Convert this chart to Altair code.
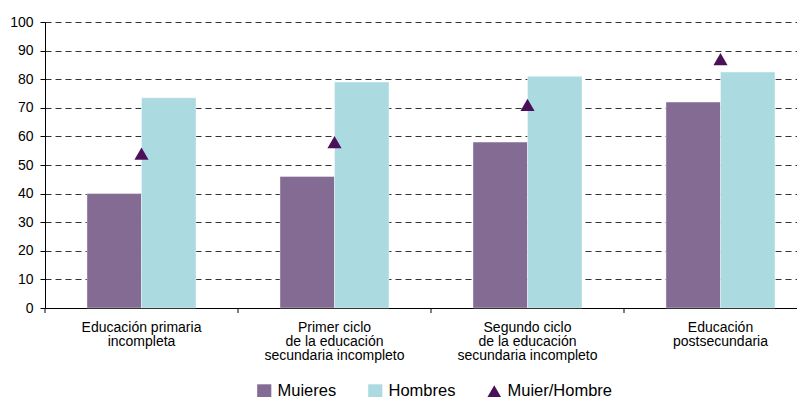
import altair as alt
import pandas as pd

categorias = [
    "Educación primaria|incompleta",
    "Primer ciclo|de la educación|secundaria incompleto",
    "Segundo ciclo|de la educación|secundaria incompleto",
    "Educación|postsecundaria",
]
mujeres = [40, 46, 58, 72]
hombres = [73.5, 79, 81, 82.5]
ratio = [54, 58, 71, 87]
series = ["Muieres", "Hombres", "Muier/Hombre"]
colores = ["#836b93", "#abdae1", "#4a1158"]
formas = ["square", "square", "triangle-up"]

bars_df = pd.DataFrame({
    "categoria": categorias * 2,
    "serie": ["Muieres"] * 4 + ["Hombres"] * 4,
    "valor": mujeres + hombres,
})
ratio_df = pd.DataFrame({
    "categoria": categorias,
    "serie": ["Muier/Hombre"] * 4,
    "valor": ratio,
})
ticks_df = pd.DataFrame({"categoria": categorias})

FONT = "Liberation Sans"
PAD_IN = 0.435
RANGE = 772
x_scale = alt.Scale(range=[0, RANGE], paddingInner=PAD_IN, paddingOuter=PAD_IN / 2)

x_enc = alt.X(
    "categoria:N",
    sort=categorias,
    scale=x_scale,
    axis=alt.Axis(
        title=None, labelExpr="split(datum.label, '|')", labelAngle=0,
        ticks=False, labelPadding=12, domainColor="black",
        labelFontSize=14, labelColor="black",
        labelLineHeight=14, labelBaseline="top", labelFont=FONT, grid=False,
    ),
)
y_enc = alt.Y(
    "valor:Q",
    scale=alt.Scale(domain=[0, 100], nice=False),
    axis=alt.Axis(
        title=None, values=list(range(0, 101, 10)), grid=True,
        gridDash=[6, 4], gridColor="#333333", gridWidth=1,
        tickSize=5, labelPadding=7, domainColor="black", tickColor="black",
        labelFontSize=14, labelColor="black", labelFont=FONT,
    ),
)
legend = alt.Legend(
    title=None, orient="none", direction="horizontal", legendX=211, legendY=361,
    symbolSize=200, labelFontSize=16.5, labelFont=FONT, labelColor="black",
    columnPadding=30, labelOffset=5, symbolStrokeWidth=0, padding=0,
)
color = alt.Color("serie:N", scale=alt.Scale(domain=series, range=colores), legend=legend)
shape = alt.Shape("serie:N", scale=alt.Scale(domain=series, range=formas), legend=legend)

bars = alt.Chart(bars_df).mark_bar(stroke="white", strokeWidth=1, strokeOpacity=0.4).encode(
    x=x_enc,
    xOffset=alt.XOffset("serie:N", sort=["Muieres", "Hombres"], scale=alt.Scale(paddingInner=0)),
    y=y_enc,
    color=color,
)
points = alt.Chart(ratio_df).mark_point(filled=True, size=200, opacity=1).encode(
    x=x_enc,
    y=y_enc,
    color=color,
    shape=shape,
)
# category boundary ticks below the x axis (half the inner padding left of each band)
half_gap = RANGE / len(categorias) * PAD_IN / 2
ticks = alt.Chart(ticks_df).mark_rule(color="black", strokeWidth=1, xOffset=-half_gap).encode(
    x=alt.X("categoria:N", sort=categorias, scale=x_scale, bandPosition=0),
    y=alt.value(286),
    y2=alt.value(291),
)

chart = alt.layer(bars, points, ticks).properties(
    width=752, height=286,
    autosize=alt.AutoSizeParams(type="none"),
    padding={"left": 37, "top": 14, "right": 0, "bottom": 89},
).configure_view(stroke=None)

chart.save("out.html", embed_options={"renderer": "svg", "actions": False})
